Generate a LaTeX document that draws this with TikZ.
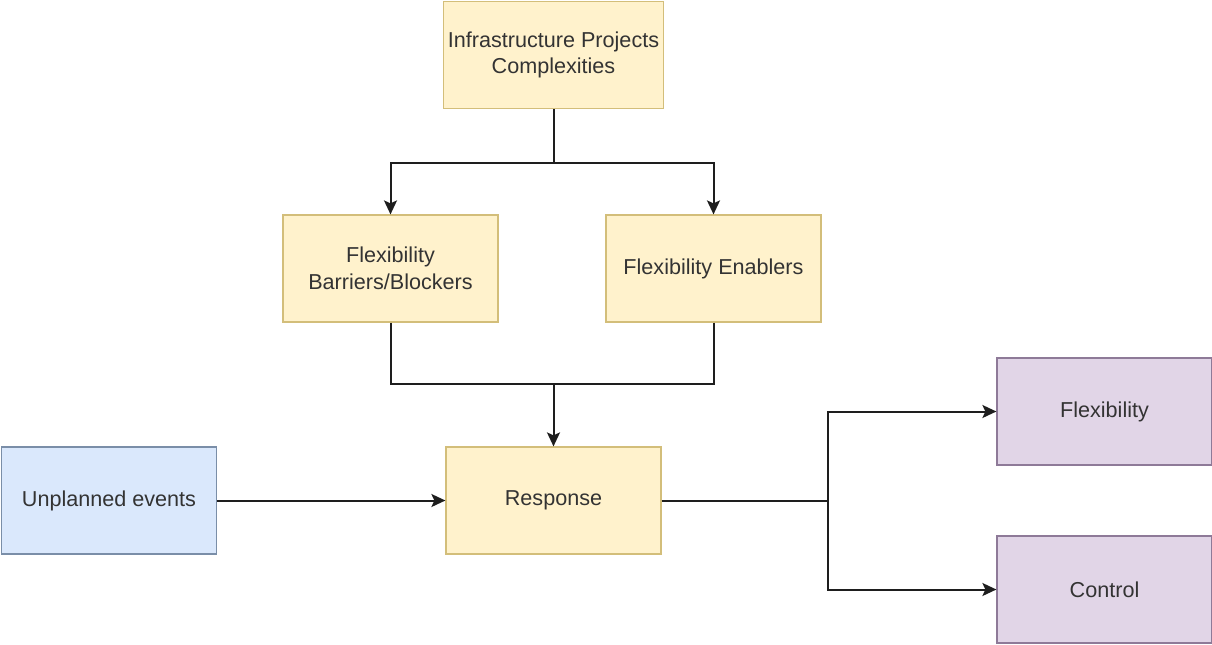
\documentclass[tikz,border=0pt]{standalone}
\usepackage{fontspec}
\setmainfont{Liberation Sans}
\usetikzlibrary{arrows.meta}
\definecolor{yfill}{HTML}{FFF2CC}
\definecolor{ydraw}{HTML}{D3BE7A}
\definecolor{bfill}{HTML}{DAE8FC}
\definecolor{bdraw}{HTML}{7A8EA8}
\definecolor{pfill}{HTML}{E1D5E7}
\definecolor{pdraw}{HTML}{8E7A98}
\definecolor{txt}{HTML}{333333}
\definecolor{ln}{HTML}{1E1E1E}
\tikzset{
  box/.style={rectangle, minimum width=107.5pt, minimum height=53.5pt, line width=0.6pt,
    align=center, text=txt, inner sep=2pt,
    font=\fontsize{10.8}{13.4}\selectfont},
  ybox/.style={box, fill=yfill, draw=ydraw},
  bbox/.style={box, fill=bfill, draw=bdraw},
  pbox/.style={box, fill=pfill, draw=pdraw},
  conn/.style={draw=ln, line width=1pt},
  arr/.style={conn, -{Stealth[length=7pt, width=6.5pt, inset=1.5pt]}}
}
\begin{document}
\begin{tikzpicture}[x=0.5pt, y=-0.5pt]
\useasboundingbox (0,0) rectangle (1212,644);
\node[ybox] (top) at (553.5,55) {Infrastructure Projects\\Complexities};
\node[ybox] (barr) at (390.5,268.5) {Flexibility\\Barriers/Blockers};
\node[ybox] (enab) at (713.5,268.5) {Flexibility Enablers};
\node[ybox] (resp) at (553.5,500.5) {Response};
\node[bbox] (unpl) at (109,500.5) {Unplanned events};
\node[pbox] (flex) at (1104.5,411.5) {Flexibility};
\node[pbox] (ctrl) at (1104.5,589.5) {Control};
\coordinate (j1) at (553.5,163);
\coordinate (j2) at (553.5,384);
\coordinate (j3) at (828,500.5);
\draw[conn] (top.south) -- (j1);
\draw[arr] (j1) -| (barr.north);
\draw[arr] (j1) -| (enab.north);
\draw[conn] (barr.south) |- (j2);
\draw[conn] (enab.south) |- (j2);
\draw[arr] (j2) -- (resp.north);
\draw[arr] (unpl.east) -- (resp.west);
\draw[conn] (resp.east) -- (j3);
\draw[arr] (j3) |- (flex.west);
\draw[arr] (j3) |- (ctrl.west);
\end{tikzpicture}
\end{document}
